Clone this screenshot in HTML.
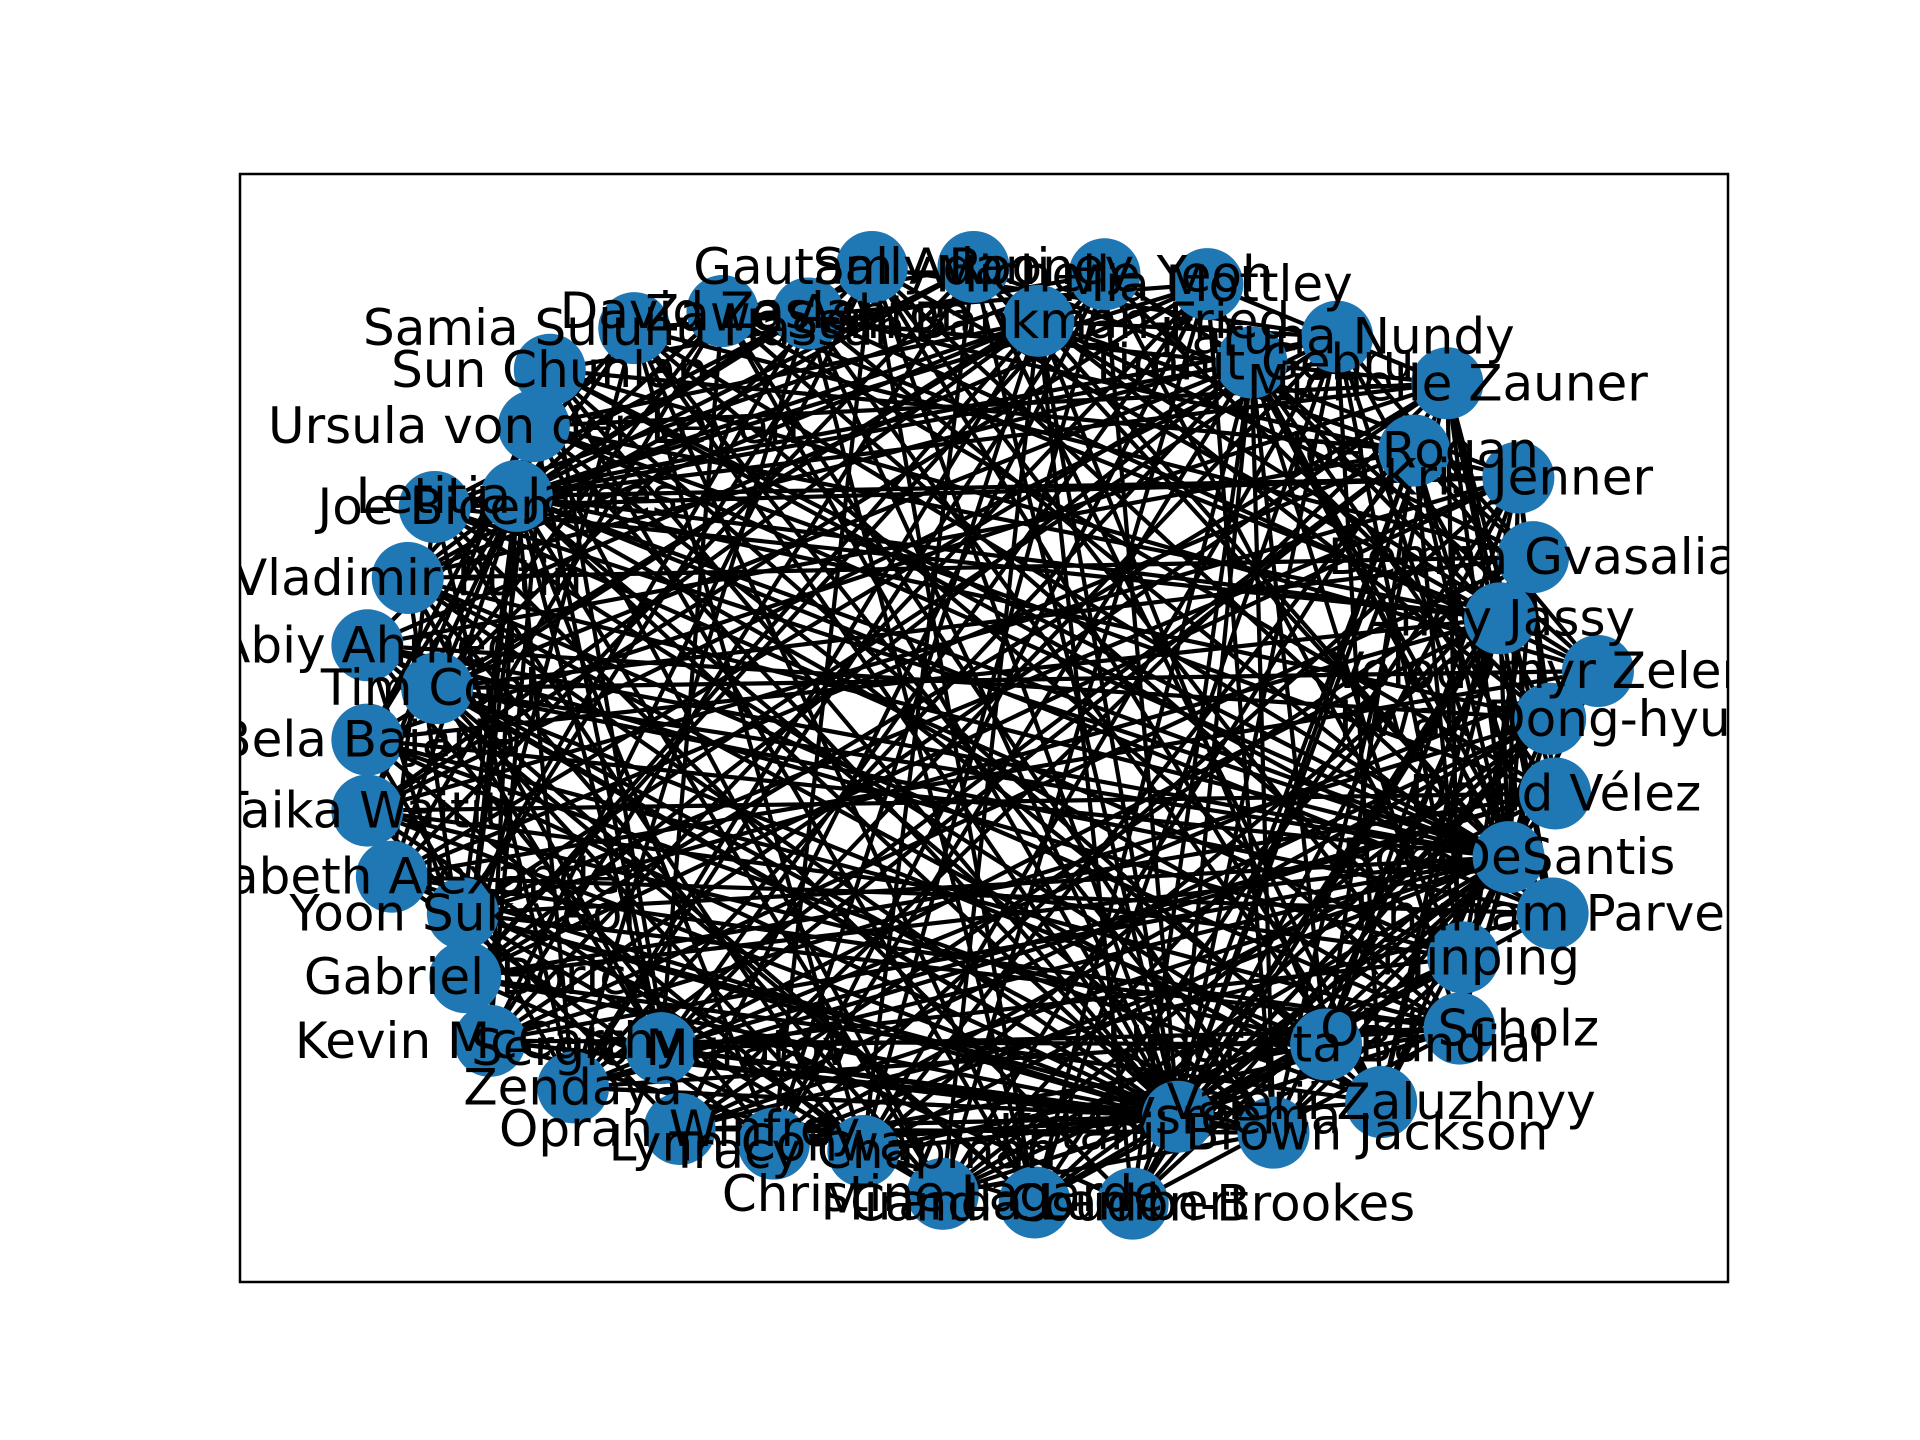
<!DOCTYPE html>
<html><head><meta charset="utf-8"><style>
html,body{margin:0;padding:0;background:#fff;}
svg{display:block;}
text{font-family:"DejaVu Sans","Liberation Sans",sans-serif;font-size:50px;fill:#000;}
</style></head><body>
<svg id="chart" width="1920" height="1440" viewBox="0 0 1920 1440" xmlns="http://www.w3.org/2000/svg">
<defs><clipPath id="axclip"><rect x="240" y="174" width="1488" height="1108"/></clipPath></defs>
<rect x="0" y="0" width="1920" height="1440" fill="#fff"/>
<g id="edges" clip-path="url(#axclip)"></g>
<g id="nodes" clip-path="url(#axclip)"></g>
<g id="labels" clip-path="url(#axclip)"></g>
<rect x="240" y="174" width="1488" height="1108" fill="none" stroke="#000" stroke-width="2.5"/>
</svg>
<script>
const names = ["Gautam Adani","Sally Rooney","Michelle Yeoh","Mia Mottley","Sam Bankman-Fried","Zawe Ashton","David Zaslav","Samia Suluhu Hassan","Sun Chunlan","Ursula von der Leyen","Letitia James","Joe Biden","Vladimir Putin","Abiy Ahmed","Tim Cook","Bela Bajaria","Taika Waititi","Elizabeth Alexander","Yoon Suk-yeol","Gabriel Boric","Kevin McCarthy","Zendaya","Sergio Muratov","Oprah Winfrey","Lynn Conway","Tracy Chapman","Christine Lagarde","Miranda Lambert","Candi Coudon-Brookes","Pan Vsreema","Ketanji Brown Jackson","Valerii Zaluzhnyy","Umar Ata Bandial","Olaf Scholz","Xi Jinping","Khurram Parvez","Ron DeSantis","David Vélez","Kwak Dong-hyun","Volodymyr Zelenskyy","Andy Jassy","Demna Gvasalia","Kris Jenner","Joe Rogan","Michelle Zauner","Karuna Nundy","Timnit Gebru"];
const layoutX = [712,795,902,986,848,660,590,518,449,436,422,355,333,300,357,300,300,320,378,380,400,468,540,555,632,705,770,845,925,962,1040,1128,1083,1192,1195,1268,1232,1270,1266,1305,1225,1252,1240,1155,1182,1092,1022];
const layoutY = [218,218,224,232,262,256,254,268,302,348,405,414,472,527,562,604,662,716,746,798,850,888,856,922,934,940,975,982,983,912,925,900,853,840,782,746,700,648,587,548,505,455,390,368,313,275,296];
const adjacency = {
0:[10,14,20,27,29,33,40,45,18,24,31,36],1:[6,10,17,25,29,36,42,12,31,20,38],2:[8,11,19,23,29,34,38,46,21,15,25],
3:[7,13,20,26,30,36,10,22,44,16,24],4:[9,10,12,16,21,24,28,29,32,36,39,41,43,45,19,26,14],5:[11,18,27,31,35,42,10,29,21,39],
6:[14,22,29,34,40,44,10,37,17,30],7:[12,25,30,33,41,10,29,36,19,27],8:[16,23,27,36,43,29,39,31,20,35],9:[19,26,32,37,44,15,29,36,22,40],
10:[11,12,13,14,15,16,17,18,19,20,21,22,26,29,30,33,35,36,38,40,42,44,46,24],11:[21,28,34,40,45,36,17,31,25,42],
12:[22,31,36,41,29,19,33,26,45],13:[24,30,38,43,29,36,20,27,34],14:[27,32,39,46,36,22,29,41,25,35],15:[25,33,40,29,36,44,21,31],
16:[26,34,42,29,37,45,23,32],17:[28,35,43,29,39,46,24,33],18:[30,36,45,29,40,33,26,42],19:[31,37,46,29,36,42,25,44],20:[32,38,44,29,36,41,27,30],
21:[33,39,29,46,36,43,37],22:[34,40,29,45,37,43,30,33],23:[35,41,29,30,44,36,38],24:[36,42,29,38,46,32],25:[37,43,29,33,40,45],
26:[38,44,36,30,34,41],27:[39,45,36,42,32,46],28:[40,46,36,33,43,38],
29:[30,31,32,33,34,35,36,37,38,39,40,41,42,43,44,45,46,25,26,27,28,21,22,23,24],
30:[41,36,44,34,46],31:[42,36,45,38,40],32:[43,36,46,40,42],33:[44,36,38,46,41],34:[45,36,39,41,43],35:[46,36,40,43,44],
36:[37,38,39,40,41,42,43,44,45,46],37:[44,46,42],38:[45,42],39:[46,43],40:[44,46],41:[45,43]
};
const S = 1920/1568;
function px(v){return v*S;}
function py(v){return v*S;}
const NS="http://www.w3.org/2000/svg";
const gE=document.getElementById('edges'), gN=document.getElementById('nodes'), gL=document.getElementById('labels');
for (const k in adjacency){
  for (const j of adjacency[k]){
    const l=document.createElementNS(NS,'line');
    l.setAttribute('x1',px(layoutX[k]));l.setAttribute('y1',py(layoutY[k]));
    l.setAttribute('x2',px(layoutX[j]));l.setAttribute('y2',py(layoutY[j]));
    l.setAttribute('stroke','#000');l.setAttribute('stroke-width','4.2');
    
    
    gE.appendChild(l);
  }
}
names.forEach((n,i)=>{
  const c=document.createElementNS(NS,'circle');
  c.setAttribute('cx',px(layoutX[i]));c.setAttribute('cy',py(layoutY[i]));c.setAttribute('r','36');
  c.setAttribute('fill','#1f77b4');
  
  
  gN.appendChild(c);
});
names.forEach((n,i)=>{
  const t=document.createElementNS(NS,'text');
  t.setAttribute('x',px(layoutX[i]));t.setAttribute('y',py(layoutY[i]));
  t.setAttribute('text-anchor','middle');t.setAttribute('dominant-baseline','central');
  t.textContent=n;
  
  
  gL.appendChild(t);
});
</script>
</body></html>
